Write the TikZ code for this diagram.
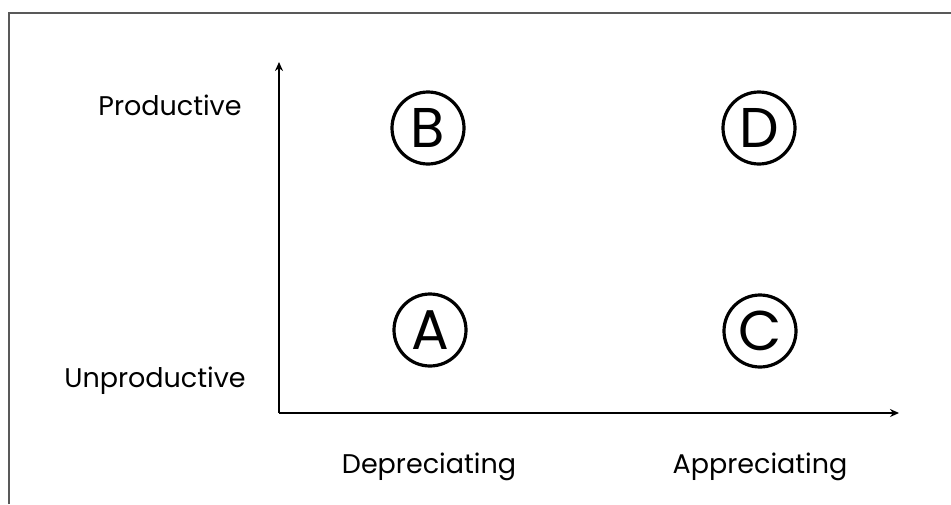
\documentclass[tikz,border=0pt]{standalone}
\usepackage{fontspec}
\setmainfont{Poppins}
\usetikzlibrary{arrows.meta}
\begin{document}
\begin{tikzpicture}[x=1pt,y=-1pt,
  axis/.style={line width=2.8pt,-{Stealth[length=9pt,width=8pt]}},
  quad/.style={circle,draw,line width=3.2pt,minimum size=72pt,inner sep=0pt,font=\fontsize{56}{56}\selectfont},
  lab/.style={font=\fontsize{27}{32}\selectfont}]
\useasboundingbox (0,0) rectangle (951,504);
\draw[line width=1.6pt,color=black!65] (9,504) -- (9,13) -- (951,13);
\coordinate (o) at (279,413);
\coordinate (ytop) at (279,62);
\coordinate (xend) at (899,413);
\draw[axis] (o) -- (ytop);
\draw[axis] (o) -- (xend);
\node[quad] (B) at (428,128) {B};
\node[quad] (D) at (759,128) {D};
\node[quad] (A) at (430,330) {A};
\node[quad] (C) at (760,331) {C};
\node[lab] (prod) at (170,105) {Productive};
\node[lab] (unprod) at (155,381) {Unproductive};
\node[lab] (dep) at (429,467) {Depreciating};
\node[lab] (app) at (760,467) {Appreciating};
\end{tikzpicture}
\end{document}
